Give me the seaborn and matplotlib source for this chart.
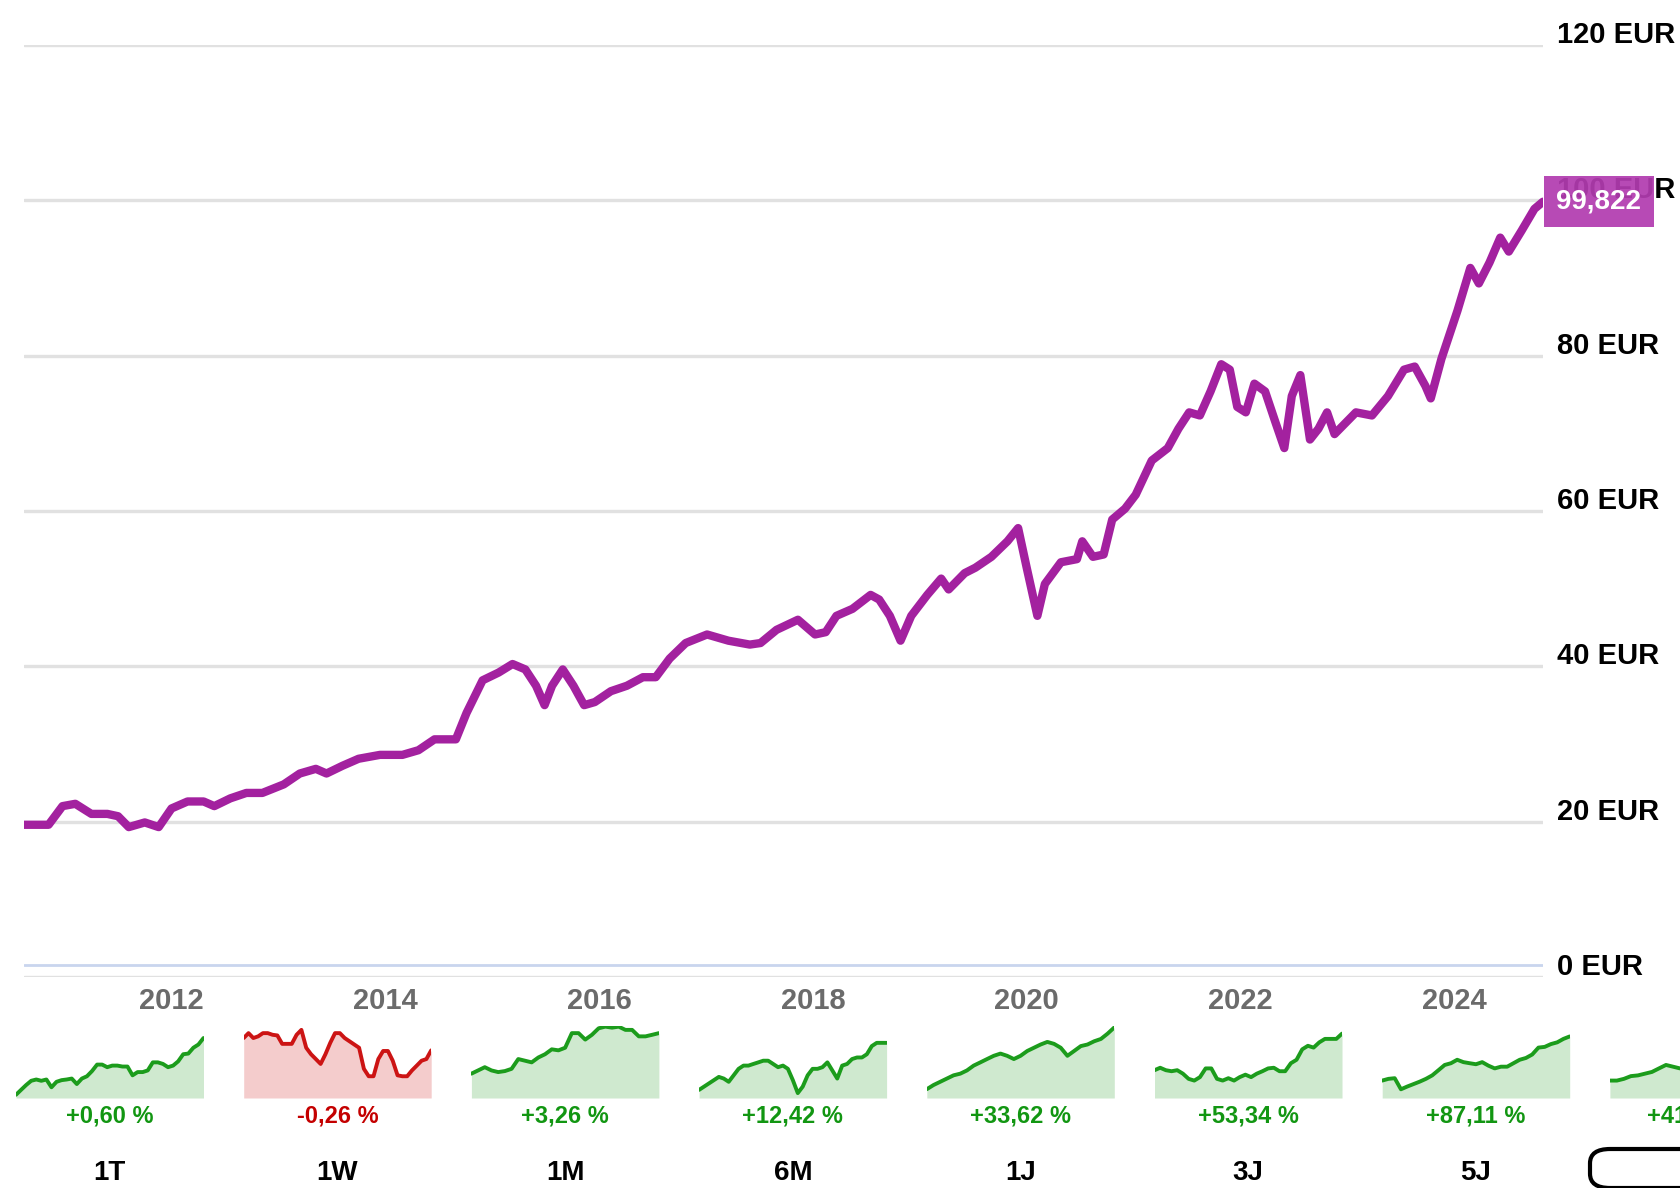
import numpy as np
import pandas as pd
import matplotlib
matplotlib.use('Agg')
import matplotlib.pyplot as plt
from matplotlib.patches import FancyBboxPatch
import seaborn as sns

# ----- main price history (EUR) -----
years = [2010.62, 2010.85, 2010.98, 2011.10, 2011.25, 2011.40, 2011.50, 2011.60, 2011.75, 2011.88,
         2012.00, 2012.15, 2012.30, 2012.40, 2012.55, 2012.70, 2012.85, 2013.05, 2013.20, 2013.35,
         2013.45, 2013.60, 2013.75, 2013.95, 2014.16, 2014.31, 2014.46, 2014.66, 2014.76, 2014.91,
         2015.06, 2015.19, 2015.31, 2015.41, 2015.49, 2015.56, 2015.66, 2015.76, 2015.86, 2015.96,
         2016.11, 2016.26, 2016.41, 2016.53, 2016.66, 2016.81, 2017.01, 2017.21, 2017.41, 2017.51,
         2017.66, 2017.86, 2018.02, 2018.12, 2018.22, 2018.37, 2018.54, 2018.62, 2018.72, 2018.82,
         2018.92, 2019.07, 2019.20, 2019.27, 2019.42, 2019.52, 2019.67, 2019.82, 2019.92, 2020.00,
         2020.10, 2020.17, 2020.32, 2020.47, 2020.52, 2020.62, 2020.72, 2020.80, 2020.92, 2021.02,
         2021.17, 2021.32, 2021.42, 2021.52, 2021.62, 2021.72, 2021.82, 2021.90, 2021.97, 2022.05,
         2022.13, 2022.23, 2022.33, 2022.41, 2022.48, 2022.56, 2022.65, 2022.73, 2022.81, 2022.88,
         2022.98, 2023.08, 2023.23, 2023.38, 2023.53, 2023.63, 2023.73, 2023.78, 2023.88, 2024.03,
         2024.15, 2024.23, 2024.33, 2024.43, 2024.51, 2024.63, 2024.75, 2024.83]
prices = [19.6, 19.6, 22.0, 22.3, 21.0, 21.0, 20.7, 19.3, 19.9, 19.3,
          21.7, 22.6, 22.6, 22.0, 23.0, 23.7, 23.7, 24.8, 26.2, 26.8,
          26.2, 27.2, 28.1, 28.6, 28.6, 29.2, 30.6, 30.6, 34.0, 38.2,
          39.2, 40.3, 39.6, 37.5, 35.0, 37.5, 39.6, 37.5, 35.0, 35.4,
          36.8, 37.5, 38.6, 38.6, 41.0, 43.0, 44.1, 43.3, 42.8, 43.0,
          44.7, 46.0, 44.1, 44.4, 46.5, 47.4, 49.2, 48.6, 46.5, 43.3,
          46.5, 49.2, 51.3, 49.9, 52.0, 52.7, 54.1, 56.1, 57.8, 52.7,
          46.5, 50.6, 53.4, 53.8, 56.1, 54.1, 54.4, 58.9, 60.3, 62.1,
          66.5, 68.1, 70.6, 72.7, 72.3, 75.4, 78.9, 78.2, 73.4, 72.7,
          76.4, 75.4, 71.3, 68.1, 74.8, 77.5, 69.2, 70.6, 72.7, 69.9,
          71.3, 72.7, 72.3, 74.8, 78.2, 78.6, 76.1, 74.5, 79.6, 85.8,
          91.3, 89.3, 92.0, 95.2, 93.4, 96.1, 98.9, 99.822]
y_ticks = [0, 20, 40, 60, 80, 100, 120]
x_ticks = [2012, 2014, 2016, 2018, 2020, 2022, 2024]

# ----- small period charts (relative height in panel, 0-100) -----
periods = ['1T', '1W', '1M', '6M', '1J', '3J', '5J', '10J']
changes = ['+0,60 %', '-0,26 %', '+3,26 %', '+12,42 %', '+33,62 %', '+53,34 %', '+87,11 %', '+413,73 %']
spark_1t = [4.5, 11.3, 18, 23.9, 25.7, 23.9, 25.7, 14.9, 22.5, 24.8, 25.7, 27, 19.4, 27, 30.2, 37.4, 46.4,
            46.4, 42.8, 45, 45, 43.7, 43.7, 31.5, 36, 36, 38.3, 49.5, 49.5, 47.3, 42.8, 45, 50.9, 60.8,
            61.7, 69.8, 74.3, 83.3]
spark_1w = [83.3, 90.1, 83.3, 85.6, 90.1, 90.1, 87.8, 86.9, 75.2, 75.2, 75.2, 87.8, 94.6, 69.8, 60.8,
            54.1, 47.3, 60.8, 76.6, 90.1, 90.1, 83.3, 78.8, 74.3, 69.8, 40.5, 30.2, 30.2, 54.1, 65.3,
            65.3, 51.8, 31.5, 30.2, 30.2, 38.3, 45, 51.8, 54.1, 66.2]
spark_1m = [33.8, 38.3, 42.8, 38.3, 36, 37.4, 40.5, 54.1, 51.8, 49.5, 56.3, 60.8, 67.6, 66.2, 69.8,
            90.1, 90.1, 81.1, 87.8, 96.8, 99.1, 97.7, 99.1, 94.6, 94.6, 85.6, 85.6, 87.8, 90.1]
spark_6m = [11.3, 15.8, 20.3, 24.8, 29.3, 27, 22.5, 31.5, 40.5, 45, 45, 47.3, 49.5, 51.8, 51.8, 47.3,
            42.8, 45, 40.5, 24.8, 6.8, 15.8, 31.5, 40.5, 40.5, 42.8, 49.5, 38.3, 27, 45, 47.3, 54.1,
            56.3, 56.3, 60.8, 72.1, 76.6, 76.6, 76.6]
spark_1j = [12.2, 18, 22.5, 27, 31.5, 33.8, 38.3, 45, 49.5, 54.1, 58.6, 61.7, 58.6, 54.1, 58.6, 65.3,
            69.8, 74.3, 77.9, 75.2, 69.8, 58.6, 65.3, 72.1, 74.3, 78.8, 82, 89.4, 98]
spark_3j = [38.6, 42, 38.6, 37.2, 38.6, 33.8, 26.6, 24.2, 29, 41.1, 41.1, 26.6, 24.2, 27.5, 24.2, 29,
            32.4, 29, 33.8, 37.2, 41.1, 42, 37.2, 37.2, 48.3, 53.1, 67.6, 72.5, 70, 77.3, 82.1, 82.1,
            82.1, 89.4]
spark_5j = [24.2, 26.6, 27.5, 12.1, 15.9, 19.3, 22.7, 26.6, 31.4, 38.6, 45.9, 48.3, 53.1, 49.8, 48.3,
            46.9, 49.8, 44.9, 41.1, 43.5, 43.5, 48.3, 53.1, 55.6, 60.4, 70, 71, 74.9, 77.3, 82.1, 85.5]
spark_10j = [24.2, 24.2, 26.6, 30.4, 31.4, 33.8, 36.2, 41.1, 45.9, 43.5, 41.1]  # visible part only
sparks = [spark_1t, spark_1w, spark_1m, spark_6m, spark_1j, spark_3j, spark_5j, spark_10j]

sns.set_style('white')
plt.rcParams['font.family'] = ['Liberation Sans', 'DejaVu Sans']

W, H = 1680, 1188
fig = plt.figure(figsize=(W / 100, H / 100), dpi=100)

purple = '#a3219f'
badge = '#b23cb0'

# ----- main chart -----
ax = fig.add_axes([24 / W, 1 - 977 / H, (1543 - 24) / W, (977 - 45) / H])
df = pd.DataFrame({'year': years, 'price': prices})
sns.lineplot(data=df, x='year', y='price', ax=ax, color=purple, lw=6, zorder=3)
ax.set_xlim(years[0], years[-1])
ax.set_ylim(0, 120)
ax.set_yticks(y_ticks)
ax.yaxis.grid(True, color='#e1e1e1', lw=2.4)
ax.tick_params(axis='y', left=False, right=False, labelleft=False)
ax.axhline(1.5, color='#c9d5ee', lw=2, zorder=2)
ax.set_xticks(x_ticks)
ax.set_xticklabels([str(t) for t in x_ticks], fontsize=21, fontweight='bold', color='#6b6b6b')
ax.tick_params(axis='x', direction='inout', length=18, width=2.5, color='#c9d5ee', pad=-2)
ax.set_xlabel('')
ax.set_ylabel('')
for s in ax.spines.values():
    s.set_visible(False)

for v in y_ticks:
    ax.annotate(f'{v} EUR', xy=(1, v), xycoords=('axes fraction', 'data'),
                xytext=(10, 1.5), textcoords='offset points', ha='left', va='baseline',
                fontsize=21, fontweight='bold', color='black', annotation_clip=False)

last = prices[-1]
ax.annotate(f'{last:.3f}'.replace('.', ','), xy=(1, last), xycoords=('axes fraction', 'data'),
            xytext=(40, 0), textcoords='offset points', ha='center', va='center',
            fontsize=20, fontweight='bold', color='white', annotation_clip=False, zorder=5,
            bbox=dict(boxstyle='square,pad=0.45', fc=badge, ec='none', alpha=0.93))

# ----- period panels -----
pw = 187.5
for i, (per, chg, vals) in enumerate(zip(periods, changes, sparks)):
    left = 16 + i * 227.7
    width = min(pw, W - left)
    up = not chg.startswith('-')
    lc = '#1c9c1c' if up else '#cc1414'
    fc = '#cfe9cf' if up else '#f4cccc'
    tc = '#129612' if up else '#c40000'
    sax = fig.add_axes([left / W, 1 - 1098 / H, width / W, 72 / H])
    xs = np.arange(len(vals))
    sax.fill_between(xs, vals, 0, color=fc, lw=0)
    sns.lineplot(x=xs, y=vals, ax=sax, color=lc, lw=2.8)
    sax.set_xlim(0, len(vals) - 1)
    sax.set_ylim(0, 100)
    sax.axis('off')
    cx = (left + pw / 2) / W
    fig.text(cx, 1 - 1116 / H, chg, ha='center', va='center', fontsize=17,
             fontweight='bold', color=tc)
    fig.text(cx, 1 - 1173 / H, per, ha='center', va='center', fontsize=20,
             fontweight='bold', color='black')

# selected period button (cut by the right edge)
fig.patches.append(FancyBboxPatch((1590 / W, 1 - 1188 / H), 220 / W, 39 / H,
                                  boxstyle='round,pad=0,rounding_size=0.012',
                                  transform=fig.transFigure, fc='none', ec='black', lw=3))

fig.savefig('out.png', dpi=100)
